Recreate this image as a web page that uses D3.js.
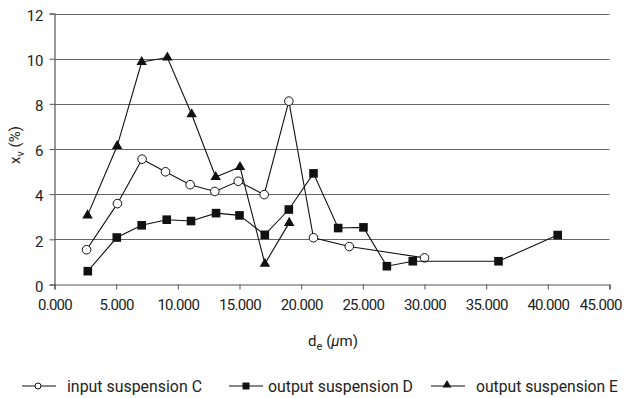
<!DOCTYPE html>
<html>
<head>
<meta charset="utf-8">
<script src="https://cdn.jsdelivr.net/npm/d3@7"></script>
<style>
  body { margin: 0; background: #fff; }
  text { font-family: Roboto, "Liberation Sans", sans-serif; fill: #222; }
</style>
</head>
<body>
<div id="container"></div>
<script>
let w = 625;
let h = 398;

// DATA
let xTicks = [0, 5, 10, 15, 20, 25, 30, 35, 40, 45];
let yTicks = [0, 2, 4, 6, 8, 10, 12];

let xC = [2.6, 5.1, 7.1, 9.0, 11.0, 13.0, 14.9, 17.0, 19.0, 21.0, 23.9, 30.0];
let yC = [1.54, 3.58, 5.55, 4.99, 4.42, 4.12, 4.57, 3.98, 8.12, 2.07, 1.68, 1.18];

let xD = [2.7, 5.05, 7.07, 9.1, 11.07, 13.1, 15.0, 17.05, 19.0, 21.0, 23.0, 25.05, 26.95, 29.05, 36.0, 40.8];
let yD = [0.59, 2.08, 2.62, 2.87, 2.81, 3.16, 3.06, 2.2, 3.32, 4.92, 2.5, 2.53, 0.81, 1.03, 1.03, 2.19];

let xE = [2.68, 5.08, 7.07, 9.15, 11.12, 13.07, 15.04, 17.06, 19.03];
let yE = [3.06, 6.13, 9.85, 10.05, 7.54, 4.76, 5.2, 0.92, 2.73];

let seriesNames = ["input suspension C", "output suspension D", "output suspension E"];

let series = [
  {name: seriesNames[0], xs: xC, ys: yC, symbol: "circle"},
  {name: seriesNames[1], xs: xD, ys: yD, symbol: "square"},
  {name: seriesNames[2], xs: xE, ys: yE, symbol: "triangle"}
];

let padL = 54.5, padR = 609.5, padT = 13.5, padB = 284.5;

let viz = d3.select("#container").append("svg")
    .attr("width", w)
    .attr("height", h);

let x = d3.scaleLinear().domain([0, 45]).range([padL, padR]);
let y = d3.scaleLinear().domain([0, 12]).range([padB, padT]);

// gridlines
viz.append("g").selectAll("line").data(yTicks.filter(d => d > 0)).enter()
  .append("line")
    .attr("x1", padL).attr("x2", padR)
    .attr("y1", d => Math.round(y(d)) + 0.5).attr("y2", d => Math.round(y(d)) + 0.5)
    .attr("stroke", "#666")
    .attr("stroke-width", 1.2);

// axes
let xAxis = viz.append("g")
  .attr("transform", "translate(0," + padB + ")")
  .call(d3.axisBottom(x).tickValues(xTicks).tickSize(5).tickPadding(10).tickFormat(d3.format(".3f")));
let yAxis = viz.append("g")
  .attr("transform", "translate(" + padL + ",0)")
  .call(d3.axisLeft(y).tickValues(yTicks).tickSize(5).tickPadding(6).tickFormat(d3.format("d")));

[xAxis, yAxis].forEach(a => {
  a.select(".domain").attr("stroke", "#555").attr("stroke-width", 1.2);
  a.selectAll(".tick line").attr("stroke", "#555");
  a.selectAll(".tick text").style("font-size", "15px").attr("fill", "#222");
});
xAxis.selectAll(".tick text").style("letter-spacing", "-0.7px");
yAxis.selectAll(".tick text").attr("dy", "0.45em");

// keep last x label inside the picture
xAxis.selectAll(".tick text").each(function() {
  let b = this.getBBox();
  let t = d3.select(this.parentNode).attr("transform");
  let tx = +t.match(/translate\(([-\d.]+)/)[1];
  let over = tx + b.x + b.width - (w - 3);
  if (over > 0) d3.select(this).attr("dx", -over);
});

// axis titles
let xt = viz.append("text")
  .attr("x", 333).attr("y", 346)
  .attr("text-anchor", "middle")
  .style("font-size", "15px");
xt.append("tspan").text("d");
xt.append("tspan").attr("dy", 4).style("font-size", "11px").text("e");
xt.append("tspan").attr("dy", -4).text(" (");
xt.append("tspan").style("font-style", "italic").text("\u03bc");
xt.append("tspan").text("m)");

let yt = viz.append("text")
  .attr("transform", "translate(20,145) rotate(-90)")
  .attr("text-anchor", "middle")
  .style("font-size", "15px");
yt.append("tspan").text("x");
yt.append("tspan").attr("dy", 4).style("font-size", "11px").text("v");
yt.append("tspan").attr("dy", -4).text(" (%)");

// marker drawing
function drawMarker(g, kind, cx, cy) {
  if (kind === "circle") {
    g.append("circle").attr("cx", cx).attr("cy", cy).attr("r", 4.3)
      .attr("fill", "#fff").attr("stroke", "#111").attr("stroke-width", 1);
  } else if (kind === "square") {
    g.append("rect").attr("x", cx - 4.3).attr("y", cy - 4.3).attr("width", 8.6).attr("height", 8.6)
      .attr("fill", "#111");
  } else {
    g.append("path")
      .attr("transform", "translate(" + cx + "," + cy + ")")
      .attr("d", d3.symbol(d3.symbolTriangle, 48)())
      .attr("fill", "#111");
  }
}

let lineMaker = d3.line().x(d => x(d[0])).y(d => y(d[1]));

series.forEach(s => {
  let pts = s.xs.map((v, k) => [v, s.ys[k]]);
  let g = viz.append("g");
  g.append("path")
    .attr("d", lineMaker(pts))
    .attr("fill", "none")
    .attr("stroke", "#111")
    .attr("stroke-width", 1.1);
  pts.forEach(p => drawMarker(g, s.symbol, x(p[0]), y(p[1])));
});

// legend
let legendX = [22, 229, 431];
let legendTextX = [67, 268, 476];
let legendTextW = [135, 145, 142];
let legendY = 386;
series.forEach((s, k) => {
  let g = viz.append("g");
  g.append("line")
    .attr("x1", legendX[k]).attr("x2", legendX[k] + 34)
    .attr("y1", legendY).attr("y2", legendY)
    .attr("stroke", "#111").attr("stroke-width", 1.1);
  if (s.symbol === "circle") {
    g.append("circle").attr("cx", legendX[k] + 16).attr("cy", legendY).attr("r", 3)
      .attr("fill", "#fff").attr("stroke", "#111");
  } else if (s.symbol === "square") {
    g.append("rect").attr("x", legendX[k] + 13.5).attr("y", legendY - 3.5).attr("width", 7).attr("height", 7)
      .attr("fill", "#111");
  } else {
    g.append("path").attr("transform", "translate(" + (legendX[k] + 16) + "," + (legendY - 1) + ")")
      .attr("d", d3.symbol(d3.symbolTriangle, 34)()).attr("fill", "#111");
  }
  g.append("text")
    .attr("x", legendTextX[k]).attr("y", legendY + 6)
    .attr("textLength", legendTextW[k])
    .attr("lengthAdjust", "spacingAndGlyphs")
    .style("font-size", "16px")
    .text(s.name);
});
</script>
</body>
</html>
